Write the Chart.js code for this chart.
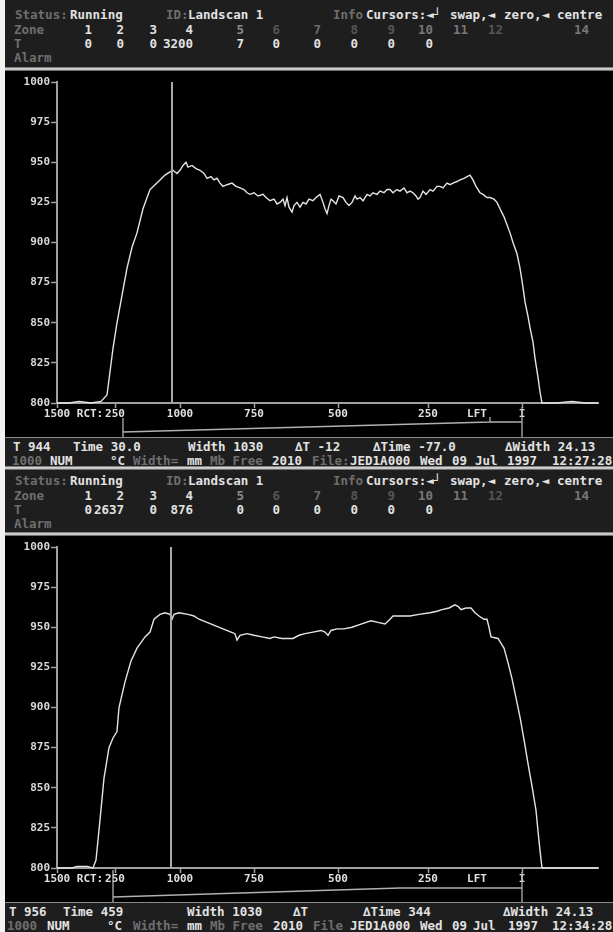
<!DOCTYPE html>
<html>
<head>
<meta charset="utf-8">
<title>Landscan profiles</title>
<script src="https://cdn.jsdelivr.net/npm/chart.js@4.4.1/dist/chart.umd.min.js"></script>
<style>
  html, body { margin: 0; padding: 0; background: #000; }
  #screen { position: relative; width: 613px; height: 932px; overflow: hidden; background: #000;
    font-family: "DejaVu Sans Mono", monospace; font-weight: bold; font-size: 12.5px; color: #e2e2e2; }
  .bar { position: absolute; left: 5px; right: 0; background: #1e1e1e; }
  .rule { position: absolute; left: 5px; right: 0; height: 4px;
    background: linear-gradient(#555, #cfcfcf 35%, #cfcfcf 60%, #444); }
  .t { position: absolute; white-space: pre; line-height: 14px; height: 14px; }
  .r { transform: translateX(-100%); }
  .d { color: #6e6e6e; }
  canvas { position: absolute; left: 0; }
  #edge { position: absolute; left: 0; top: 0; width: 5px; height: 932px; background: #f2f2f2; z-index: 5; }
</style>
</head>
<body>
<div id="screen">
  <div class="bar" style="top:0;height:67px"></div>
  <div class="rule" style="top:67px"></div>
  <canvas id="scan1" width="613" height="366" style="top:71px"></canvas>
  <div class="bar" style="top:437px;height:29px;border-top:1px solid #8a8a8a"></div>
  <div class="rule" style="top:466px"></div>
  <div class="bar" style="top:470px;height:62px"></div>
  <div class="rule" style="top:532px"></div>
  <canvas id="scan2" width="613" height="366" style="top:536px"></canvas>
  <div class="bar" style="top:902px;height:30px;border-top:1px solid #8a8a8a"></div>
  <div id="edge"></div>
</div>
<script>
// axis ticks (x is the scan column, labels as printed by the scanner)
const yTicks = [800, 825, 850, 875, 900, 925, 950, 975, 1000];
const xTickPos = [0, 33, 58, 123, 197, 281, 371, 420, 465];
const xTickLabels = ["1500", "RCT:", "250", "1000", "750", "500", "250", "LFT", "I"];
const unmarkedLabels = ["RCT:", "LFT"];

const zoneNames = ["1", "2", "3", "4", "5", "6", "7", "8", "9", "10", "11", "12", "14"];
const zoneTemps1 = ["0", "0", "0", "3200", "7", "0", "0", "0", "0", "0"];
const zoneTemps2 = ["0", "2637", "0", "876", "0", "0", "0", "0", "0", "0"];

// cursor column for each scan
const cursor1 = 115;
const cursor2 = 114;

// [column, temperature °C]
const scan1 = [
  [0, 800], [12, 800], [22, 801], [34, 800], [44, 801], [50, 805], [56, 834], [60, 850],
  [65, 867], [70, 884], [75, 897], [80, 906], [86, 921], [93, 933], [98, 936], [103, 939],
  [108, 942], [113, 944], [116, 945], [120, 943], [123, 945], [126, 948], [129, 950], [131, 947],
  [135, 948], [139, 946], [143, 945], [147, 943], [150, 940], [154, 941], [157, 939], [160, 940],
  [163, 937], [166, 935], [170, 936], [175, 937], [179, 935], [183, 934], [187, 933], [190, 931],
  [193, 930], [197, 931], [201, 929], [206, 930], [209, 928], [213, 926], [217, 927], [220, 924],
  [223, 925], [226, 927], [228, 923], [230, 928], [232, 922], [235, 919], [237, 923], [240, 925],
  [243, 922], [246, 925], [249, 924], [252, 927], [256, 926], [259, 928], [263, 930], [266, 925],
  [268, 921], [270, 918], [272, 923], [274, 927], [276, 926], [279, 924], [282, 929], [286, 928],
  [289, 925], [292, 923], [295, 925], [298, 929], [300, 927], [303, 928], [306, 926], [310, 930],
  [313, 929], [316, 931], [320, 930], [323, 932], [327, 931], [330, 933], [333, 933], [336, 931],
  [340, 933], [343, 932], [347, 934], [350, 931], [353, 932], [356, 931], [359, 929], [361, 927],
  [363, 928], [366, 932], [369, 930], [373, 933], [376, 932], [380, 935], [383, 935], [386, 934],
  [390, 937], [393, 936], [396, 937], [400, 938], [403, 939], [407, 940], [410, 941], [413, 942],
  [416, 939], [419, 935], [423, 931], [426, 930], [430, 928], [433, 928], [437, 927], [440, 925],
  [443, 921], [447, 916], [450, 911], [453, 906], [456, 900], [460, 893], [463, 884], [466, 872],
  [468, 863], [471, 854], [473, 847], [476, 838], [478, 828], [481, 816], [483, 807], [485, 800],
  [500, 800], [515, 801], [528, 800], [541, 800],
];

const scan2 = [
  [0, 800], [15, 800], [20, 801], [30, 801], [36, 800], [39, 805], [43, 830], [47, 856],
  [52, 875], [56, 881], [60, 885], [62, 900], [68, 916], [74, 929], [80, 937], [88, 944],
  [93, 947], [97, 955], [103, 958], [108, 959], [113, 958], [115, 955], [117, 958], [122, 959],
  [131, 958], [137, 957], [142, 955], [150, 953], [158, 951], [166, 949], [174, 947], [178, 946],
  [180, 942], [183, 945], [190, 946], [197, 945], [205, 944], [213, 943], [217, 944], [225, 943],
  [236, 943], [242, 945], [248, 946], [256, 947], [264, 948], [268, 947], [271, 945], [274, 948],
  [280, 949], [287, 949], [295, 950], [304, 952], [314, 954], [321, 953], [328, 952], [333, 955],
  [336, 957], [345, 957], [353, 957], [362, 958], [373, 959], [380, 960], [385, 961], [392, 962],
  [398, 964], [401, 963], [404, 961], [409, 962], [414, 962], [418, 959], [422, 957], [427, 955],
  [430, 955], [432, 950], [434, 944], [441, 943], [447, 937], [451, 928], [455, 918], [459, 906],
  [463, 894], [467, 880], [471, 865], [475, 851], [479, 836], [481, 823], [483, 811], [485, 800],
  [500, 800], [520, 800], [541, 800],
];

const scr = document.getElementById("screen");
const zoneRight = [92, 124, 157, 193, 244, 280, 321, 358, 395, 433, 468, 503, 589];
const zoneShade = ["#e2e2e2", "#e2e2e2", "#e2e2e2", "#e2e2e2", "#8a8a8a", "#555", "#6a6a6a",
  "#555", "#555", "#777", "#777", "#555", "#777"];

function put(text, x, y, cls, color) {
  const el = document.createElement("div");
  el.className = "t " + (cls || "");
  el.textContent = text;
  el.style.left = x + "px";
  el.style.top = y - 7 + "px";
  if (color) el.style.color = color;
  scr.appendChild(el);
}

function header(top, temps) {
  put("Status:", 15, top + 15, "d");
  put("Running", 70, top + 15);
  put("ID:", 166, top + 15, "d");
  put("Landscan 1", 188, top + 15);
  put("Info", 333, top + 15, "d");
  put("Cursors:◄┘", 366, top + 15);
  put("swap,◄", 450, top + 15);
  put("zero,◄", 504, top + 15);
  put("centre", 557, top + 15);
  put("Zone", 14, top + 30, "d");
  zoneNames.forEach((z, i) => put(z, zoneRight[i], top + 30, "r", zoneShade[i]));
  put("T", 14, top + 44, "d");
  temps.forEach((v, i) => put(v, zoneRight[i], top + 44, "r"));
  put("Alarm", 14, top + 58, "d");
}

header(0, zoneTemps1);
header(466, zoneTemps2);

// status line, scan 1
put("T 944", 13, 447);
put("Time 30.0", 73, 447);
put("Width 1030", 188, 447);
put("∆T -12", 295, 447);
put("∆Time -77.0", 373, 447);
put("∆Width 24.13", 505, 447);
put("1000", 12, 461, "d");
put("NUM", 50, 461);
put("°C", 110, 461);
put("Width=", 133, 461, "d");
put("mm", 187, 461);
put("Mb Free", 210, 461, "d");
put("2010", 272, 461);
put("File:", 312, 461, "d");
put("JED1A000", 350, 461);
put("Wed", 420, 461);
put("09", 452, 461);
put("Jul", 475, 461);
put("1997", 507, 461);
put("12:27:28", 552, 461);

// status line, scan 2
put("T 956", 9, 912);
put("Time 459", 63, 912);
put("Width 1030", 187, 912);
put("∆T", 293, 912);
put("∆Time 344", 363, 912);
put("∆Width 24.13", 503, 912);
put("1000", 7, 926, "d");
put("NUM", 47, 926);
put("°C", 107, 926);
put("Width=", 133, 926, "d");
put("mm", 187, 926);
put("Mb Free", 210, 926, "d");
put("2010", 273, 926);
put("File", 313, 926, "d");
put("JED1A000", 350, 926);
put("Wed", 420, 926);
put("09", 452, 926);
put("Jul", 473, 926);
put("1997", 508, 926);
put("12:34:28", 552, 926);

// bracket from the right cursor label to the "I" marker, below the axis
const cursorLinks = {
  id: "cursorLinks",
  afterDraw(chart, args, o) {
    const { ctx, chartArea } = chart;
    const x = chart.scales.x;
    const base = chartArea.bottom;
    const xa = x.getPixelForValue(o.a), xk = x.getPixelForValue(o.k), xb = x.getPixelForValue(o.b);
    ctx.save();
    ctx.strokeStyle = "#b0b0b0";
    ctx.lineWidth = 1.3;
    ctx.beginPath();
    ctx.moveTo(xa, base + o.top);
    ctx.lineTo(xa, chart.height);
    ctx.moveTo(xa, base + o.low);
    ctx.lineTo(xk, base + o.high);
    ctx.lineTo(xb, base + o.high);
    ctx.moveTo(xb, base + 4);
    ctx.lineTo(xb, chart.height);
    if (o.stub) {
      ctx.moveTo(xk, base + o.high);
      ctx.lineTo(xk, base + o.high - 5);
    }
    ctx.stroke();
    ctx.restore();
  },
};

const tickFont = { family: "DejaVu Sans Mono", weight: "bold", size: 11 };

function drawScan(canvasId, profile, cursor, links) {
  return new Chart(document.getElementById(canvasId), {
    type: "line",
    data: {
      datasets: [
        {
          data: [{ x: cursor, y: 800 }, { x: cursor, y: 1000 }],
          borderColor: "#a8a8a8",
          borderWidth: 2,
          pointRadius: 0,
        },
        {
          data: profile.map(([x, y]) => ({ x, y })),
          borderColor: "#e4e4e4",
          borderWidth: 1.4,
          pointRadius: 0,
          tension: 0,
          clip: false,
        },
      ],
    },
    options: {
      responsive: false,
      animation: false,
      layout: { padding: { left: 5, right: 15, top: 11, bottom: 0 } },
      plugins: {
        legend: { display: false },
        tooltip: { enabled: false },
        cursorLinks: links,
      },
      scales: {
        x: {
          type: "linear",
          min: 0,
          max: 541,
          afterBuildTicks: (s) => { s.ticks = xTickPos.map((v) => ({ value: v })); },
          afterFit: (s) => { s.height = 34; },
          border: { color: "#a0a0a0", width: 2 },
          grid: {
            drawOnChartArea: false,
            tickLength: 5,
            tickWidth: 1.5,
            tickColor: (ctx) => unmarkedLabels.includes(xTickLabels[ctx.index]) ? "rgba(0,0,0,0)" : "#a0a0a0",
          },
          ticks: {
            autoSkip: false,
            maxRotation: 0,
            padding: 0,
            color: "#e0e0e0",
            font: tickFont,
            callback: (v, i) => xTickLabels[i],
          },
        },
        y: {
          min: 800,
          max: 1000,
          afterBuildTicks: (s) => { s.ticks = yTicks.map((v) => ({ value: v })); },
          afterFit: (s) => { s.width = 52; },
          border: { color: "#a0a0a0", width: 2 },
          grid: { drawOnChartArea: false, tickLength: 6, tickWidth: 1.5, tickColor: "#a0a0a0" },
          ticks: { padding: 1, color: "#d8d8d8", font: tickFont, callback: (v) => v },
        },
      },
    },
    plugins: [cursorLinks],
  });
}

drawScan("scan1", scan1, cursor1, { a: 66, k: 433, b: 465, top: 15, low: 29, high: 19, stub: true });
drawScan("scan2", scan2, cursor2, { a: 56, k: 343, b: 465, top: 2, low: 29, high: 20, stub: false });
</script>
</body>
</html>
